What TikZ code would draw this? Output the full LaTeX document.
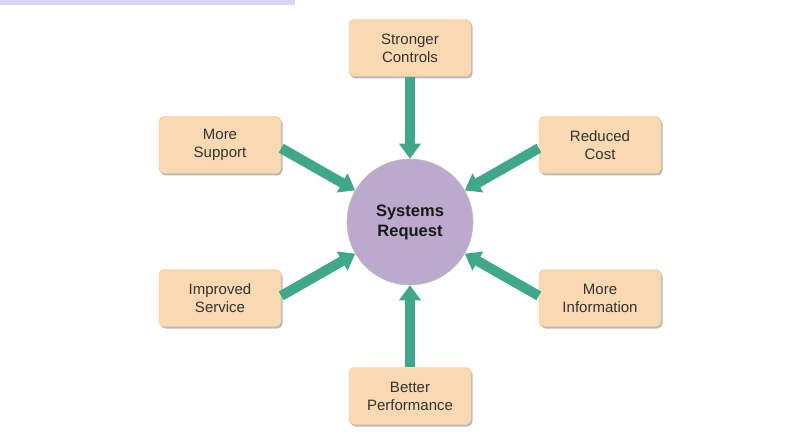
\documentclass[tikz,border=0pt]{standalone}
\usepackage{fontspec}
\setmainfont{Liberation Sans}
\usepackage{tikz}
\usetikzlibrary{arrows.meta,shadows}
\definecolor{reqpeach}{HTML}{F9D9B1}
\definecolor{reqpeachmid}{HTML}{EFC690}
\definecolor{reqlilac}{HTML}{BCAACD}
\definecolor{reqgreen}{HTML}{3FA78A}
\definecolor{reqtext}{HTML}{333333}
\definecolor{reqbar}{HTML}{D6D6F7}

\begin{document}
\begin{tikzpicture}[x=1pt,y=-1pt,
    reqbox/.style={draw=reqpeachmid,line width=0.4pt,fill=reqpeach,rounded corners=5pt,minimum width=122pt,minimum height=57pt,
      font=\fontsize{15}{18}\selectfont,text=reqtext,align=center,inner sep=2pt,
      drop shadow={shadow xshift=1.5pt,shadow yshift=-2pt,opacity=0.45,fill=black!60}},
    reqhub/.style={circle,draw=black!25,line width=0.6pt,fill=reqlilac,minimum size=126pt,inner sep=0pt,
      font=\fontsize{16.5}{20}\selectfont\bfseries,text=black!90,align=center},
    feed/.style={draw=reqgreen,line width=10pt,-{Triangle[width=21pt,length=15pt]}}]
    \useasboundingbox (0,0) rectangle (786,438);
    \fill[reqbar] (0,0) rectangle (295,5);
    \node[reqhub] (sr) at (410,222) {Systems\\Request};
    \foreach \nm/\lab/\x/\y in {%
      sc/{Stronger\\Controls}/410/48, ms/{More\\Support}/220/145,
      rc/{Reduced\\Cost}/600/145, is/{Improved\\Service}/220/298,
      mi/{More\\Information}/600/298, bp/{Better\\Performance}/410/396%
    } {
      \node[reqbox] (\nm) at (\x,\y) {\lab};
    }
    \foreach \src/\from/\ang in {%
      sc/south/90, ms/-3/150, rc/183/30,
      is/2/210, mi/178/330, bp/north/270%
    } {
      \draw[feed] (\src.\from) -- (sr.\ang);
    }
  \end{tikzpicture}
\end{document}
